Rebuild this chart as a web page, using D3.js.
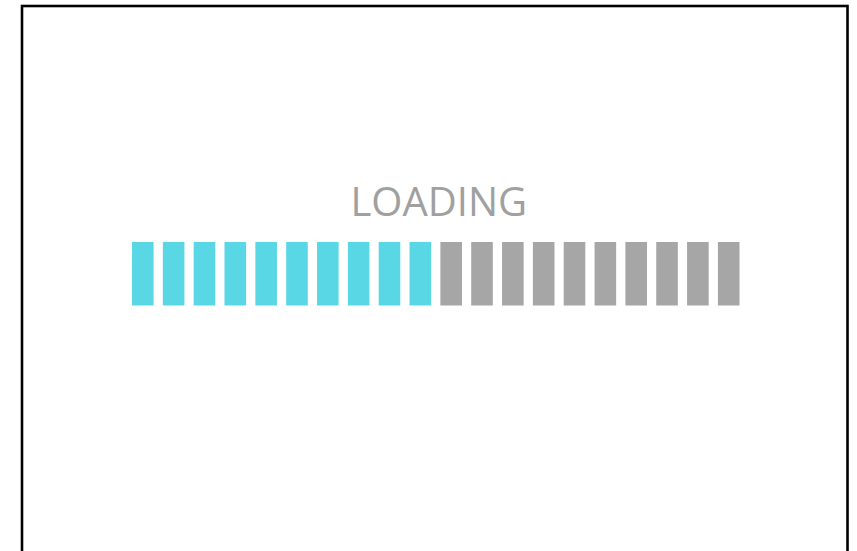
<!DOCTYPE html>
<html>
<head>
<meta charset="utf-8">
<script src="https://cdn.jsdelivr.net/npm/d3@7"></script>
<style>
  html, body { margin: 0; padding: 0; background: #fff; }
  svg { display: block; }
</style>
</head>
<body>
<div id="container"></div>
<script>
const WIDTH = 857;
const HEIGHT = 551;

// progress bar data: 20 segments, first 10 done
const segments = d3.range(1, 21);
const doneCount = 10;
const label = 'LOADING';

const svg = d3
  .select('#container')
  .append('svg')
  .attr('width', WIDTH)
  .attr('height', HEIGHT);

// frame, bottom edge runs off the picture
svg
  .append('rect')
  .attr('x', 22)
  .attr('y', 6)
  .attr('width', 825.5)
  .attr('height', 600)
  .attr('fill', '#fff')
  .attr('stroke', '#000')
  .attr('stroke-width', 2.6);

const x = d3
  .scaleBand()
  .domain(segments)
  .range([132, 739.5])
  .paddingInner(0.3)
  .paddingOuter(0);

const y = d3.scaleLinear().domain([0, 1]).range([305.5, 242]);

const color = (d) => (d <= doneCount ? '#59d7e5' : '#a6a6a6');

svg
  .append('g')
  .attr('class', 'bars')
  .selectAll('rect')
  .data(segments)
  .enter()
  .append('rect')
  .attr('x', (d) => x(d))
  .attr('y', y(1))
  .attr('width', x.bandwidth())
  .attr('height', y(0) - y(1))
  .attr('fill', (d) => color(d));

svg
  .append('text')
  .attr('x', (x.range()[0] + x.range()[1]) / 2 + 3)
  .attr('y', 216)
  .attr('text-anchor', 'middle')
  .attr('font-family', '"Open Sans", sans-serif')
  .attr('font-weight', 400)
  .attr('font-size', 40)
  .attr('fill', '#a0a0a0')
  .text(label);
</script>
</body>
</html>
